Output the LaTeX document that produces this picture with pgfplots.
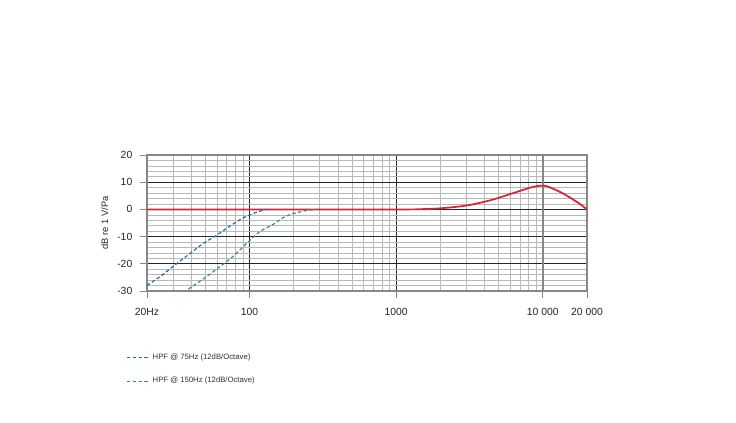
\documentclass[border=0pt]{standalone}
\usepackage{fontspec}
\setmainfont{Liberation Sans}
\usepackage{pgfplots}
\pgfplotsset{compat=1.18}
\definecolor{hpfblue}{RGB}{30,110,165}
\definecolor{hpfgreen}{RGB}{55,150,75}
\definecolor{respred}{RGB}{215,35,55}
\definecolor{framegray}{RGB}{135,135,135}

\begin{document}
\begin{tikzpicture}
  % page size (736 x 422 px at 0.75pt/px)
  \path (0,0) rectangle (552pt,316.5pt);
  \begin{axis}[
      at={(110.25pt,98.25pt)}, anchor=south west,
      scale only axis, width=330pt, height=102pt,
      xmode=log,
      xmin=20, xmax=20000, ymin=-30, ymax=20,
      xtick pos=bottom, ytick pos=left,
      xtick={20,100,1000,20000},
      xticklabels={20Hz,100,1000,20 000},
      extra x ticks={10000},
      extra x tick labels={10 000},
      extra x tick style={major grid style={framegray, line width=1.3pt}},
      minor xtick={30,40,50,60,70,80,90,200,300,400,500,600,700,800,900,2000,3000,4000,5000,6000,7000,8000,9000},
      ytick={-30,-20,-10,0,10,20},
      minor ytick={-28,-26,-24,-22,-18,-16,-14,-12,-8,-6,-4,-2,2,4,6,8,12,14,16,18},
      grid=both,
      major grid style={black!85, line width=0.5pt},
      minor grid style={black!28, line width=0.45pt},
      axis line style={framegray, line width=1.5pt},
      tick align=outside, major tick length=5pt, minor tick length=0pt,
      tick style={framegray, line width=0.6pt},
      ticklabel style={font=\fontsize{7.8}{9}\selectfont, text=black!85},
      xticklabel style={yshift=-4.5pt},
      yticklabel style={xshift=-2.5pt},
      /pgf/number format/assume math mode=true,
      ylabel={dB re 1 V/Pa},
      ylabel style={font=\fontsize{7}{8}\selectfont, text=black!85},
      legend style={at={(-0.057,-0.42)}, anchor=north west, draw=none, fill=none,
        font=\fontsize{5.8}{7}\selectfont, row sep=8pt, cells={anchor=west},
        text=black!80},
      legend image code/.code={\draw[#1] (0pt,0pt) -- (17pt,0pt);},
    ]

    % frequency response
    \addplot[respred, line width=1.3pt, smooth, forget plot] coordinates {
        (20,0) (1000,0) (1500,0.1) (2000,0.4) (3000,1.4) (4350,3.3) (5660,5.2)
        (7350,7.2) (8600,8.3) (9600,8.7) (10500,8.6) (12200,7.2) (14000,5.6)
        (15900,3.8) (18000,1.9) (20000,0)
      };

    % HPF 75 Hz
    \addplot[hpfblue, line width=0.9pt, dash pattern=on 2.6pt off 1.8pt, smooth] coordinates {
        (20,-28.0) (25,-24.4) (30,-21.0) (40,-15.9) (48.4,-12.5) (59.7,-9.5)
        (73.6,-6.1) (90.6,-3.1) (100,-2.1) (112,-1.0) (125,-0.2) (132,0)
      };
    \addlegendentry{HPF @ 75Hz (12dB/Octave)}

    % HPF 150 Hz
    \addplot[hpfgreen, line width=0.9pt, dash pattern=on 2.6pt off 1.8pt, smooth] coordinates {
        (38.3,-29.3) (51,-24.7) (63,-21.0) (77.5,-17.2) (100,-11.5) (118,-8.1)
        (145,-5.5) (170,-3.0) (200,-1.5) (245,-0.4) (290,0)
      };
    \addlegendentry{HPF @ 150Hz (12dB/Octave)}

  \end{axis}
\end{tikzpicture}
\end{document}
